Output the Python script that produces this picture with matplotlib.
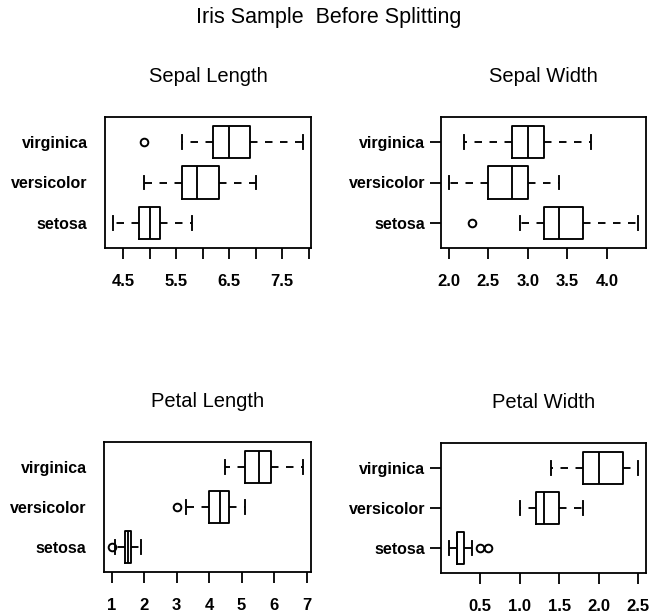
import matplotlib
matplotlib.use("Agg")
import matplotlib.pyplot as plt

plt.rcParams['font.family'] = ['Liberation Sans', 'DejaVu Sans']

# box stats per species: [whisker low, Q1, median, Q3, whisker high]
species = ["setosa", "versicolor", "virginica"]

sepal_length_stats = [[4.3, 4.8, 5.0, 5.2, 5.8],
                      [4.9, 5.6, 5.9, 6.3, 7.0],
                      [5.6, 6.2, 6.5, 6.9, 7.9]]
sepal_length_outliers = [[], [], [4.9]]

sepal_width_stats = [[2.9, 3.2, 3.4, 3.7, 4.4],
                     [2.0, 2.5, 2.8, 3.0, 3.4],
                     [2.2, 2.8, 3.0, 3.2, 3.8]]
sepal_width_outliers = [[2.3], [], []]

petal_length_stats = [[1.1, 1.4, 1.5, 1.6, 1.9],
                      [3.3, 4.0, 4.35, 4.6, 5.1],
                      [4.5, 5.1, 5.55, 5.9, 6.9]]
petal_length_outliers = [[1.0], [3.0], []]

petal_width_stats = [[0.1, 0.2, 0.2, 0.3, 0.4],
                     [1.0, 1.2, 1.3, 1.5, 1.8],
                     [1.4, 1.8, 2.0, 2.3, 2.5]]
petal_width_outliers = [[0.5, 0.6], [], []]

sepal_length_ticks = [4.5, 5.0, 5.5, 6.0, 6.5, 7.0, 7.5, 8.0]
sepal_length_ticklabels = ["4.5", "", "5.5", "", "6.5", "", "7.5", ""]
sepal_width_ticks = [2.0, 2.5, 3.0, 3.5, 4.0]
sepal_width_ticklabels = ["2.0", "2.5", "3.0", "3.5", "4.0"]
petal_length_ticks = [1, 2, 3, 4, 5, 6, 7]
petal_length_ticklabels = ["1", "2", "3", "4", "5", "6", "7"]
petal_width_ticks = [0.5, 1.0, 1.5, 2.0, 2.5]
petal_width_ticklabels = ["0.5", "1.0", "1.5", "2.0", "2.5"]

W, H = 658, 613
fig = plt.figure(figsize=(W / 100, H / 100), dpi=100)


def px_axes(left, top, right, bottom):
    return fig.add_axes([left / W, 1 - bottom / H, (right - left) / W, (bottom - top) / H])


def make_panel(ax, title, stats, outliers, ticks, ticklabels, ytick_len):
    bxp_stats = []
    for s, fl in zip(stats, outliers):
        bxp_stats.append({'whislo': s[0], 'q1': s[1], 'med': s[2], 'q3': s[3],
                          'whishi': s[4], 'fliers': fl})
    lw = 1.35
    ax.bxp(bxp_stats, positions=[1, 2, 3], widths=0.8, capwidths=0.34,
           orientation='horizontal',
           boxprops=dict(color='black', linewidth=lw),
           medianprops=dict(color='black', linewidth=lw),
           whiskerprops=dict(color='black', linewidth=lw, linestyle=(0, (4, 4))),
           capprops=dict(color='black', linewidth=lw),
           flierprops=dict(marker='o', markersize=5.5, markerfacecolor='none',
                           markeredgecolor='black', markeredgewidth=1.4))

    # R style axis range: data range plus 4 percent on each side
    allvals = [v for s in stats for v in s] + [v for fl in outliers for v in fl]
    lo, hi = min(allvals), max(allvals)
    r = hi - lo
    ax.set_xlim(lo - 0.04 * r, hi + 0.04 * r)
    ax.set_ylim(0.38, 3.62)

    ax.set_xticks(ticks)
    ax.set_xticklabels(ticklabels, fontsize=12, fontweight='bold')
    ax.set_yticks([1, 2, 3])
    ax.set_yticklabels(species, fontsize=11.5, fontweight='bold')
    ax.tick_params(axis='x', length=8, width=1.3, pad=11, direction='out')
    ax.tick_params(axis='y', length=ytick_len, width=1.3,
                   pad=12.5 if ytick_len == 0 else 3.5, direction='out')
    for sp in ax.spines.values():
        sp.set_linewidth(1.3)

    bb = ax.get_position()
    fig.text((bb.x0 + bb.x1) / 2, bb.y1 + 40 / H, title, ha='center', va='center',
             fontsize=14.5)


ax1 = px_axes(105, 117, 311, 248)
make_panel(ax1, "Sepal Length", sepal_length_stats, sepal_length_outliers,
           sepal_length_ticks, sepal_length_ticklabels, 0)
ax2 = px_axes(441, 117, 646, 248)
make_panel(ax2, "Sepal Width", sepal_width_stats, sepal_width_outliers,
           sepal_width_ticks, sepal_width_ticklabels, 8)
ax3 = px_axes(104, 442, 311, 572)
make_panel(ax3, "Petal Length", petal_length_stats, petal_length_outliers,
           petal_length_ticks, petal_length_ticklabels, 0)
ax4 = px_axes(441, 443, 646, 573)
make_panel(ax4, "Petal Width", petal_width_stats, petal_width_outliers,
           petal_width_ticks, petal_width_ticklabels, 8)

fig.text(0.5, 1 - 18 / H, "Iris Sample  Before Splitting", ha='center', va='center',
         fontsize=15.5)

fig.savefig("out.png", dpi=100)
